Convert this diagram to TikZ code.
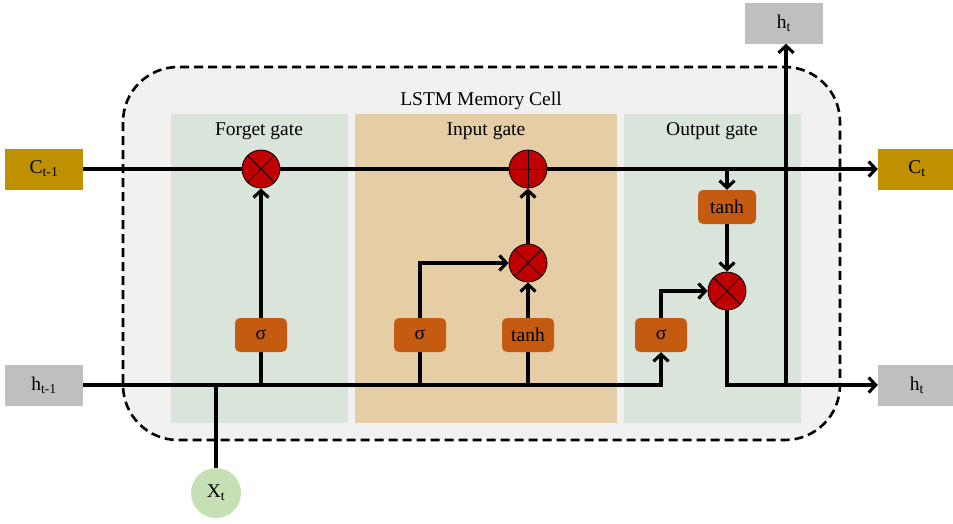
\documentclass[tikz,border=0pt]{standalone}
\usepackage{fontspec}
\setmainfont{Liberation Serif}
\usetikzlibrary{arrows.meta}

\definecolor{cellbg}{HTML}{F1F1F1}
\definecolor{panelgreen}{HTML}{D9E4DB}
\definecolor{panelsand}{HTML}{E5CDA6}
\definecolor{goldbox}{HTML}{BF9000}
\definecolor{greybox}{HTML}{BFBFBF}
\definecolor{actbox}{HTML}{C55A11}
\definecolor{opred}{HTML}{C00000}
\definecolor{inputgreen}{HTML}{C5E0B4}

\tikzset{
  lbl/.style={font=\fontsize{19.5}{23}\selectfont},
  statebox/.style={lbl, minimum width=78pt, minimum height=41pt, inner sep=0pt},
  cellstate/.style={statebox, fill=goldbox},
  hidden/.style={statebox, fill=greybox},
  actfn/.style={lbl, fill=actbox, rounded corners=5pt, minimum width=52pt,
    minimum height=34pt, inner sep=0pt},
  opnode/.style={circle, fill=opred, draw=black, line width=0.8pt,
    minimum size=38pt, inner sep=0pt},
  wire/.style={line width=3.1pt},
  flow/.style={wire, -{Straight Barb[length=7pt,width=15pt]}},
  opstroke/.style={line width=0.8pt}
}

\begin{document}
\begin{tikzpicture}[x=1pt, y=-1pt]
  \useasboundingbox (0,0) rectangle (953,523);

  % memory cell outline and gate panels
  \fill[cellbg, rounded corners=55pt] (123,67) rectangle (840,440);
  \fill[panelgreen] (171,114) rectangle (348,423);
  \fill[panelsand] (355,114) rectangle (617,423);
  \fill[panelgreen] (624,114) rectangle (801,423);
  \draw[line width=2.6pt, dash pattern=on 9pt off 5pt, rounded corners=55pt]
    (123,67) rectangle (840,440);

  \node[lbl] (celltitle) at (481,101) {LSTM Memory Cell};
  \node[lbl] (forgetlbl) at (259,131) {Forget gate};
  \node[lbl] (inputlbl) at (486,131) {Input gate};
  \node[lbl] (outputlbl) at (712,131) {Output gate};

  % inputs and outputs
  \node[cellstate] (cprev) at (44,169) {C\textsubscript{t-1}};
  \node[cellstate] (cnext) at (917,169) {C\textsubscript{t}};
  \node[hidden] (hprev) at (44,385) {h\textsubscript{t-1}};
  \node[hidden] (hnext) at (917,385) {h\textsubscript{t}};
  \node[hidden] (htop) at (784,23) {h\textsubscript{t}};
  \node[lbl, circle, fill=inputgreen, minimum size=50pt, inner sep=0pt]
    (xt) at (216,493) {X\textsubscript{t}};

  % activation blocks
  \node[actfn] (fsig) at (261,335) {σ};
  \node[actfn] (isig) at (420,335) {σ};
  \node[actfn] (itanh) at (528,335) {tanh};
  \node[actfn] (osig) at (661,335) {σ};
  \node[actfn, minimum width=58pt] (otanh) at (727,207) {tanh};

  % pointwise operations
  \node[opnode] (fmul) at (261,169) {};
  \node[opnode] (plus) at (528,169) {};
  \node[opnode] (imul) at (528,263) {};
  \node[opnode] (omul) at (727,291) {};
  \foreach \m in {fmul,imul,omul}{
    \draw[opstroke] (\m.north west) -- (\m.south east);
    \draw[opstroke] (\m.north east) -- (\m.south west);
  }
  \draw[opstroke] (plus.north) -- (plus.south);
  \draw[opstroke] (plus.west) -- (plus.east);

  % junction points on the state lines
  \coordinate (xjoin) at (216,385);
  \coordinate (fj) at (261,385);
  \coordinate (ij) at (420,385);
  \coordinate (tj) at (528,385);
  \coordinate (hbend) at (661,385);
  \coordinate (ctap) at (727,169);
  \coordinate (htap) at (786,385);

  % cell state path
  \draw[wire] (cprev) -- (fmul);
  \draw[wire] (fmul) -- (plus);
  \draw[flow] (plus) -- (cnext);

  % hidden state and input path
  \draw[wire] (xt) -- (xjoin);
  \draw[flow] (hprev.east) -- (hbend) -- (osig);
  \draw[wire] (fj) -- (fsig);
  \draw[flow] (fsig) -- (fmul);
  \draw[wire] (ij) -- (isig);
  \draw[flow] (isig) |- (imul);
  \draw[wire] (tj) -- (itanh);
  \draw[flow] (itanh) -- (imul);
  \draw[flow] (imul) -- (plus);

  % output gate
  \draw[flow] (ctap) -- (otanh);
  \draw[flow] (otanh) -- (omul);
  \draw[flow] (osig) |- (omul);
  \draw[flow] (omul) |- (hnext);
  \draw[flow] (htap) -- (htap |- htop.south);
\end{tikzpicture}
\end{document}
